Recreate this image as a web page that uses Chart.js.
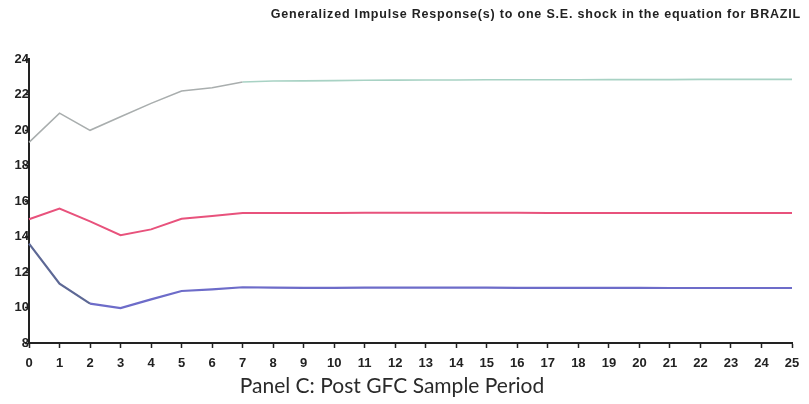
<!DOCTYPE html>
<html>
<head>
<meta charset="utf-8">
<script src="https://cdn.jsdelivr.net/npm/chart.js@4"></script>
<style>
  html, body { margin: 0; padding: 0; background: #fff; }
  #wrap { width: 809px; height: 404px; position: relative; }
</style>
</head>
<body>
<div id="wrap"><canvas id="irf"></canvas></div>
<script>
// horizon (periods after the shock)
const periods = [0, 1, 2, 3, 4, 5, 6, 7, 8, 9, 10, 11, 12, 13, 14, 15, 16, 17, 18, 19, 20, 21, 22, 23, 24, 25];

// responses to the BRAZIL shock
const upperResp = [19.3, 20.95, 19.98, 20.75, 21.5, 22.2, 22.38, 22.7, 22.76, 22.77, 22.78, 22.8, 22.81, 22.82, 22.82, 22.83, 22.83, 22.83, 22.83, 22.84, 22.84, 22.84, 22.85, 22.85, 22.85, 22.85];
const middleResp = [14.97, 15.57, 14.85, 14.07, 14.4, 15.0, 15.15, 15.33, 15.33, 15.33, 15.33, 15.34, 15.34, 15.34, 15.34, 15.34, 15.34, 15.33, 15.33, 15.33, 15.33, 15.33, 15.33, 15.33, 15.32, 15.32];
const lowerResp = [13.6, 11.34, 10.22, 9.97, 10.46, 10.93, 11.02, 11.14, 11.12, 11.11, 11.11, 11.12, 11.12, 11.12, 11.12, 11.12, 11.11, 11.11, 11.11, 11.11, 11.11, 11.1, 11.1, 11.1, 11.1, 11.1];

const yMin = 8;
const yMax = 24;

const titleText = 'Generalized Impulse Response(s) to one S.E. shock in the equation for BRAZIL';
const captionText = 'Panel C: Post GFC Sample Period';

// title above the plot and the panel caption below the axis
const captions = {
  id: 'captions',
  afterDraw(chart) {
    const ctx = chart.ctx;
    ctx.save();
    ctx.fillStyle = '#222';
    ctx.textBaseline = 'middle';
    ctx.font = 'bold 12.5px "Liberation Sans", Arial, sans-serif';
    ctx.letterSpacing = '0.8px';
    ctx.textAlign = 'right';
    ctx.fillText(titleText, 801, 15);
    ctx.letterSpacing = '0px';
    ctx.fillStyle = '#2a2a2a';
    ctx.font = '21px Lato, "Open Sans", sans-serif';
    ctx.textAlign = 'center';
    ctx.fillText(captionText, 392, 386);
    ctx.restore();
  }
};

const tickFont = { family: '"Liberation Sans", Arial, sans-serif', size: 13, weight: 'bold' };

new Chart(document.getElementById('irf'), {
  type: 'line',
  data: {
    labels: periods,
    datasets: [
      {
        data: upperResp,
        borderWidth: 1.6,
        segment: { borderColor: c => c.p0DataIndex < 7 ? '#a9aeae' : '#a8d2c4' },
        borderColor: '#a8d2c4'
      },
      {
        data: middleResp,
        borderWidth: 2,
        borderColor: '#e8527c'
      },
      {
        data: lowerResp,
        borderWidth: 2.2,
        segment: { borderColor: c => c.p0DataIndex < 2 ? '#5d6895' : '#6d6cc9' },
        borderColor: '#6d6cc9'
      }
    ]
  },
  options: {
    responsive: true,
    maintainAspectRatio: false,
    animation: false,
    layout: { padding: { top: 59, right: 17, left: 0, bottom: 0 } },
    elements: { point: { radius: 0 }, line: { tension: 0 } },
    plugins: { legend: { display: false }, tooltip: { enabled: false } },
    scales: {
      x: {
        offset: false,
        border: { color: '#222', width: 2 },
        grid: { drawOnChartArea: false, color: '#222', tickLength: 5, tickWidth: 1.5 },
        ticks: { color: '#222', font: tickFont, padding: 8, maxRotation: 0, autoSkip: false },
        afterFit(scale) { scale.height = 61; }
      },
      y: {
        min: yMin,
        max: yMax,
        border: { color: '#222', width: 2 },
        grid: { drawOnChartArea: false, color: '#222', tickLength: 4, tickWidth: 1.5 },
        ticks: {
          stepSize: 1,
          color: '#222',
          font: tickFont,
          padding: -4,
          callback: v => (v % 2 === 0 ? v : '')
        },
        afterFit(scale) { scale.width = 29; }
      }
    }
  },
  plugins: [captions]
});
</script>
</body>
</html>
